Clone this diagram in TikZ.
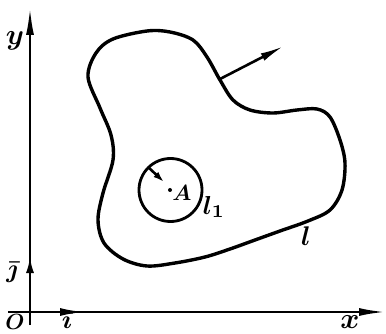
\documentclass[tikz,border=0pt]{standalone}
\usepackage{graphicx}
\usetikzlibrary{arrows.meta}
\newcommand{\bigtxt}[2]{\scalebox{#1}{\boldmath$#2$}}
\begin{document}
\begin{tikzpicture}[x=1pt,y=-1pt,
  lbl/.style={inner sep=0pt},
  axis/.style={line width=2.2pt},
  curve/.style={line width=3.4pt,line join=round},
  vec/.style={line width=2.6pt}]
\useasboundingbox (0,0) rectangle (386,334);
% axes
\coordinate (O) at (30,312);
\coordinate (ybot) at (30,325);
\coordinate (ytop) at (30,8);
\coordinate (xleft) at (8,312);
\coordinate (xright) at (385,312);
\coordinate (jtip) at (30,257);
\coordinate (itip) at (84,312);
\draw[axis,-{Latex[length=27pt,width=8pt]}] (ybot) -- (ytop);
\draw[axis,-{Latex[length=26pt,width=8pt]}] (xleft) -- (xright);
\draw[axis,-{Latex[length=16pt,width=8pt]}] (O) -- (jtip);
\draw[axis,-{Latex[length=24pt,width=8pt]}] (O) -- (itip);
% outer contour
\draw[curve] plot[smooth cycle,tension=0.55] coordinates {
 (88,77) (96,53) (113,39) (147,31) (170,32) (193,40) (207,57) (220,80)
 (233,100) (250,110) (273,113) (297,110) (317,109) (330,117) (340,140)
 (345,163) (342,190) (330,210) (308,221) (280,231) (255,240) (230,249)
 (205,257) (175,263) (147,266) (123,259) (104,243) (98,220) (103,193)
 (113,160) (111,135) (100,108)};
% inner circle
\node[circle,draw,line width=2.8pt,minimum size=63pt,inner sep=0pt] (C) at (170.5,190) {};
\fill (170,190) circle (2pt);
% normals
\coordinate (n1a) at (148,167);
\coordinate (n1b) at (164,182);
\draw[vec,-{Latex[length=11pt,width=7pt]}] (n1a) -- (n1b);
\coordinate (n2a) at (220,79);
\coordinate (n2b) at (284,46);
\draw[vec,-{Latex[length=24pt,width=8pt]}] (n2a) -- (n2b);
% labels
\node[lbl] (ly) at (15,41) {\bigtxt{2.9}{y}};
\node[lbl] (lx) at (350,322) {\bigtxt{2.9}{x}};
\node[lbl] (lO) at (15,322) {\bigtxt{2.2}{O}};
\node[lbl] (lj) at (12,272) {\bigtxt{2.6}{\bar{\jmath}}};
\node[lbl] (li) at (67,321) {\bigtxt{2.6}{\bar{\imath}}};
\node[lbl] (lA) at (182,193) {\bigtxt{2.2}{A}};
\node[lbl] (ll1) at (214,207) {\bigtxt{2.6}{l_1}};
\node[lbl] (ll) at (306,236) {\bigtxt{2.7}{l}};
\end{tikzpicture}
\end{document}
